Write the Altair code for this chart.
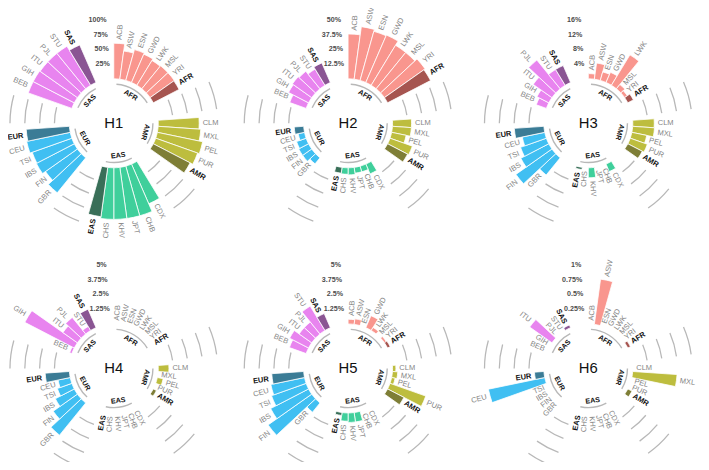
import math
import altair as alt
import pandas as pd

haplotypes = ["H1", "H2", "H3", "H4", "H5", "H6"]
super_pops = ["AFR", "AMR", "EAS", "EUR", "SAS"]
afr_pops = ["ACB", "ASW", "ESN", "GWD", "LWK", "MSL", "YRI", "AFR"]
amr_pops = ["CLM", "MXL", "PEL", "PUR", "AMR"]
eas_pops = ["CDX", "CHB", "JPT", "KHV", "CHS", "EAS"]
eur_pops = ["GBR", "FIN", "IBS", "TSI", "CEU", "EUR"]
sas_pops = ["BEB", "GIH", "ITU", "PJL", "STU", "SAS"]

# haplotype frequency (%), order: AFR group, AMR group, EAS group, EUR group, SAS group
h1_freq = [60, 48, 54, 52, 49, 50, 50, 49,
           69, 72, 78, 75, 70,
           73, 87, 87, 87, 87, 84,
           76, 66, 72, 71, 75, 73,
           78, 78, 77, 77, 77, 69]
h2_freq = [37.8, 44.7, 43, 43.6, 39.5, 39.5, 42, 40.8,
           16, 16, 12.5, 20, 19,
           9, 5, 5, 6, 5.5, 5,
           6.6, 9.4, 9.4, 8.6, 5.5, 8,
           14.7, 19, 20, 19, 16, 18]
h3_freq = [1.4, 4.4, 2.4, 3, 9.6, 1.5, 0.9, 1.7,
           5.8, 5.9, 4.1, 4.9, 4.4,
           2.2, 0, 0, 2.7, 0, 0.6,
           6, 11.9, 8.5, 7.4, 6.2, 8,
           2.9, 3.6, 6.2, 10, 5, 5]
h4_freq = [0, 0, 0, 0, 0, 0, 0, 0,
           0.9, 0, 0.5, 0, 0.3,
           0, 0, 0, 0, 0, 0,
           3.5, 2.5, 1.8, 1.3, 1.05, 2.05,
           0.2, 4.7, 1.5, 1.8, 0.4, 1.7]
h5_freq = [0.4, 0.47, 0, 1.1, 0.3, 0, 0.2, 0.25,
           0.28, 0.45, 0.3, 3.2, 1.55,
           0, 0, 0.8, 0.8, 0.7, 0.25,
           1.0, 4.5, 3.6, 3.1, 2.9, 2.7,
           1.5, 1.8, 1.3, 1.3, 2.4, 1.3]
h6_freq = [0, 0.77, 0, 0, 0, 0, 0, 0.05,
           0, 0.75, 0, 0, 0.08,
           0, 0, 0, 0, 0, 0,
           0, 0, 0, 0, 0.97, 0.16,
           0, 0, 0.46, 0, 0, 0.05]
all_freq = [h1_freq, h2_freq, h3_freq, h4_freq, h5_freq, h6_freq]

axis_max = [100, 50, 16, 5, 5, 1]
tick_fracs = [0.25, 0.5, 0.75, 1.0]
tick_labels = [["25%", "50%", "75%", "100%"],
               ["12.5%", "25%", "37.5%", "50%"],
               ["4%", "8%", "12%", "16%"],
               ["1.25%", "2.5%", "3.75%", "5%"],
               ["1.25%", "2.5%", "3.75%", "5%"],
               ["0.25%", "0.5%", "0.75%", "1%"]]

pop_colors = ["#F9968E", "#BDBD3E", "#3FCF9B", "#40BFF2", "#E884EF"]
super_colors = ["#A65550", "#7E7E36", "#396F58", "#3B7C96", "#8A5593"]

# ---------- build tables ----------
GAP = 3
groups = [afr_pops, amr_pops, eas_pops, eur_pops, sas_pops]
slots = []
spans = []
s = 0
for sp, members in zip(super_pops, groups):
    first = s
    for p in members:
        slots.append((p, sp, s))
        s += 1
    spans.append((sp, first, s - 1))
    s += GAP
N_SLOTS = s


def deg(c):
    return c * 360.0 / N_SLOTS


bar_rows, grid_rows, grp_rows, tick_rows, ctr_rows = [], [], [], [], []
for i, h in enumerate(haplotypes):
    col, row = i % 3, i // 3
    vmax = axis_max[i]
    ctr_rows.append({"hap": h, "col": col, "row": row})
    for (p, sp, sl), v in zip(slots, all_freq[i]):
        c = sl + 0.5
        th = deg(c)
        right = th < 180
        bar_rows.append({
            "hap": h, "col": col, "row": row, "pop": p, "grp": sp,
            "sup": p == sp, "t0": sl, "t1": sl + 1, "tc": c,
            "rn": v / vmax, "zero": 0.0,
            "ck": sp + ("_s" if p == sp else "_p"),
            "right": right,
            "ang": (th - 90) if right else (th - 270),
        })
    for k in range(len(spans) - 1):
        a = spans[k][2] + 1.5
        b = spans[k + 1][1] - 0.5
        for f in tick_fracs:
            grid_rows.append({"hap": h, "col": col, "row": row,
                              "t0": a, "t1": b, "frac": f})
    for sp, a, b in spans:
        mid = (a + b + 1) / 2.0
        th = deg(mid)
        ang = th - 180 if 120 < th < 300 else th
        grp_rows.append({"hap": h, "col": col, "row": row, "grp": sp,
                         "t0": a + 0.5, "t1": b + 0.5, "tc": mid, "ang": ang})
    for f, lab in zip(tick_fracs, tick_labels[i]):
        tick_rows.append({"hap": h, "col": col, "row": row, "frac": f,
                          "lab": lab, "tc": N_SLOTS - 0.5})

bars_df = pd.DataFrame(bar_rows)
grid_df = pd.DataFrame(grid_rows)
grp_df = pd.DataFrame(grp_rows)
tick_df = pd.DataFrame(tick_rows)
ctr_df = pd.DataFrame(ctr_rows)

color_keys = [g + "_p" for g in super_pops] + [g + "_s" for g in super_pops]
color_vals = pop_colors + super_colors

FONT = "Liberation Sans"
X = alt.X("col:Q", scale=alt.Scale(domain=[0, 1, 2], range=[107, 344, 587]), axis=None)
Y = alt.Y("row:Q", scale=alt.Scale(domain=[0, 1], range=[114, 362]), axis=None)
TH = alt.Scale(type="linear", domain=[0, N_SLOTS], range=[0, 2 * math.pi])
RS = alt.Scale(type="linear", domain=[0, 1], range=[45, 105])

grid = alt.Chart(grid_df).mark_arc(
    color="#b8b8b8", radiusOffset=0.65, radius2Offset=-0.65
).encode(
    x=X, y=Y,
    theta=alt.Theta("t0:Q", scale=TH, stack=None), theta2="t1:Q",
    radius=alt.Radius("frac:Q", scale=RS), radius2="frac:Q",
)

gbase = alt.Chart(grp_df).mark_arc(color="#b8b8b8").encode(
    x=X, y=Y,
    theta=alt.Theta("t0:Q", scale=TH, stack=None), theta2="t1:Q",
    radius=alt.value(40.3), radius2=alt.value(38.9),
)

bars = alt.Chart(bars_df).mark_arc(stroke="white", strokeWidth=0.8).encode(
    x=X, y=Y,
    theta=alt.Theta("t0:Q", scale=TH, stack=None), theta2="t1:Q",
    radius=alt.Radius("rn:Q", scale=RS), radius2="zero:Q",
    color=alt.Color("ck:N", scale=alt.Scale(domain=color_keys, range=color_vals),
                    legend=None),
)


def pop_text(sup, right):
    return alt.Chart(bars_df).transform_filter(
        f"datum.sup == {'true' if sup else 'false'} && datum.right == {'true' if right else 'false'}"
    ).mark_text(
        align="left" if right else "right", baseline="middle", radiusOffset=3.5,
        fontSize=7.6, font=FONT,
        color="#111111" if sup else "#858585",
        fontWeight="bold" if sup else "normal",
    ).encode(
        x=X, y=Y,
        theta=alt.Theta("tc:Q", scale=TH, stack=None),
        radius=alt.Radius("rn:Q", scale=RS),
        angle=alt.Angle("ang:Q", scale=None),
        text="pop:N",
    )


grp_text = alt.Chart(grp_df).mark_text(
    align="center", baseline="middle", fontSize=7.2, font=FONT,
    fontWeight="bold", color="#111111",
).encode(
    x=X, y=Y,
    theta=alt.Theta("tc:Q", scale=TH, stack=None),
    radius=alt.value(33),
    angle=alt.Angle("ang:Q", scale=None),
    text="grp:N",
)

tick_text = alt.Chart(tick_df).mark_text(
    align="right", baseline="middle", fontSize=7.2, font=FONT,
    fontWeight="bold", color="#4d4d4d",
).encode(
    x=X, y=Y,
    theta=alt.Theta("tc:Q", scale=TH, stack=None),
    radius=alt.Radius("frac:Q", scale=RS),
    text="lab:N",
)

center_text = alt.Chart(ctr_df).mark_text(
    align="center", baseline="middle", fontSize=15, font=FONT, color="#111111"
).encode(x=X, y=Y, text="hap:N")

chart = alt.layer(
    grid, gbase, bars,
    pop_text(False, True), pop_text(False, False),
    pop_text(True, True), pop_text(True, False),
    grp_text, tick_text, center_text,
).properties(
    width=701, height=454,
    autosize=alt.AutoSizeParams(type="none"),
    padding=0,
).configure_view(stroke=None)

chart.save("out.html", embed_options={"renderer": "svg", "actions": False})
